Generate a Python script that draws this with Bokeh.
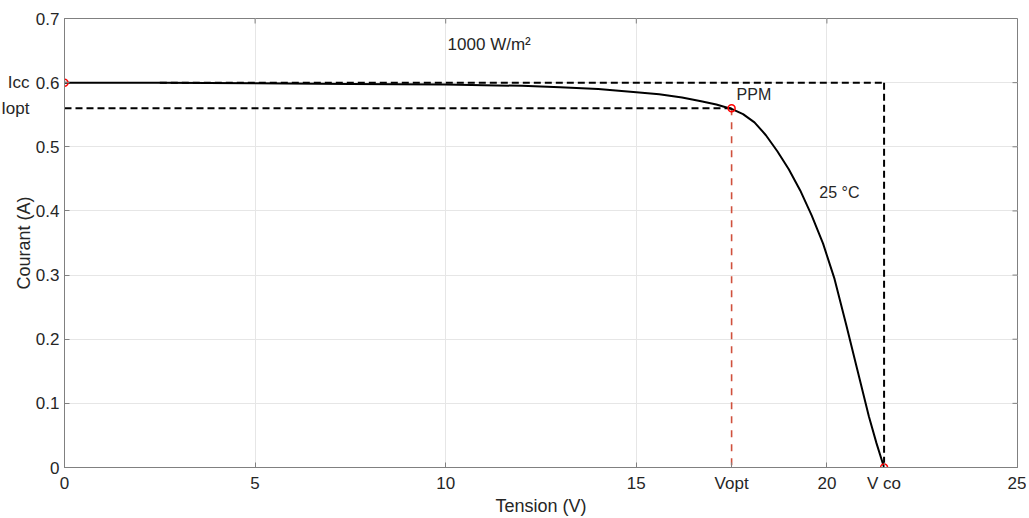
from bokeh.plotting import figure
from bokeh.models import Label, LinearAxis, Range1d, FixedTicker
from bokeh.embed import file_html
from bokeh.resources import INLINE

# ---- data ----
tension = [0, 2.5, 5, 7.5, 10, 12, 13, 14, 15, 15.6, 16.2, 16.7, 17.1, 17.5,
           17.8, 18.1, 18.4, 18.7, 19.0, 19.3, 19.6, 19.9, 20.2, 20.5, 20.8,
           21.1, 21.3, 21.5]
courant = [0.600, 0.600, 0.599, 0.598, 0.597, 0.595, 0.593, 0.590, 0.585, 0.582,
           0.577, 0.571, 0.566, 0.559, 0.551, 0.538, 0.518, 0.493, 0.465, 0.432,
           0.393, 0.349, 0.294, 0.224, 0.152, 0.080, 0.038, 0.0]
icc = 0.6
iopt = 0.56
vopt = 17.5
vco = 21.5
x_ticks = [0, 5, 10, 15, 20, 25]
y_ticks = [0, 0.1, 0.2, 0.3, 0.4, 0.5, 0.6, 0.7]
x_marks = {17.5: "Vopt", 21.5: "V co"}
y_marks = {0.56: "Iopt", 0.6: "Icc"}
x_max = 25
y_max = 0.7

FONT = "Liberation Sans"
TXT = "#262626"
AX = "#808080"

p = figure(width=1026, height=518, output_backend="svg", toolbar_location=None,
           x_range=Range1d(0, x_max), y_range=Range1d(0, y_max),
           min_border_left=64, min_border_right=9, min_border_top=18, min_border_bottom=50,
           x_axis_label="Tension (V)")
p.outline_line_color = AX
p.background_fill_color = "white"
p.border_fill_color = "white"

for ax in (p.xaxis[0], p.yaxis[0]):
    ax.axis_line_color = AX
    ax.major_tick_line_color = AX
    ax.major_tick_in = 5
    ax.major_tick_out = 0
    ax.minor_tick_line_color = None
    ax.major_label_text_font = FONT
    ax.major_label_text_font_size = "17px"
    ax.major_label_text_color = TXT
    ax.axis_label_text_font = FONT
    ax.axis_label_text_font_size = "18px"
    ax.axis_label_text_font_style = "normal"
    ax.axis_label_text_color = TXT

p.xaxis.ticker = FixedTicker(ticks=sorted(x_ticks + list(x_marks)))
p.xaxis.major_label_overrides = x_marks
p.xaxis.major_label_standoff = 6
p.xaxis.axis_label_standoff = 0
p.yaxis.ticker = FixedTicker(ticks=y_ticks)
p.yaxis.major_label_standoff = 5

# outer left axis: Icc / Iopt names and the axis title
names = LinearAxis(ticker=FixedTicker(ticks=sorted(y_marks)), major_label_overrides=y_marks,
                   axis_line_color=None, major_tick_line_color=None, minor_tick_line_color=None,
                   major_tick_in=0, major_tick_out=0, major_label_standoff=3,
                   major_label_text_font=FONT, major_label_text_font_size="17px",
                   major_label_text_color=TXT,
                   axis_label="Courant (A)", axis_label_standoff=-36,
                   axis_label_text_font=FONT, axis_label_text_font_size="18px",
                   axis_label_text_font_style="normal", axis_label_text_color=TXT)
p.add_layout(names, "left")

p.xgrid.ticker = FixedTicker(ticks=x_ticks)
p.ygrid.ticker = FixedTicker(ticks=y_ticks)
p.grid.grid_line_color = "#e6e6e6"
p.grid.grid_line_width = 1

# box ticks on the top and right edges (inward, ~5 px)
tick_dy = y_max * 5 / 448
tick_dx = x_max * 5 / 953
p.segment(x0=x_ticks, y0=[y_max] * len(x_ticks), x1=x_ticks,
          y1=[y_max - tick_dy] * len(x_ticks), line_color=AX, line_width=1)
p.segment(x0=[x_max] * len(y_ticks), y0=y_ticks, x1=[x_max - tick_dx] * len(y_ticks),
          y1=y_ticks, line_color=AX, line_width=1)

# reference dashed lines
p.line([2.5, vco], [icc, icc], line_color="black", line_width=2, line_dash="7 4")
p.line([vco, vco], [icc, 0], line_color="black", line_width=2, line_dash="7 4")
p.line([0, vopt], [iopt, iopt], line_color="black", line_width=2, line_dash="7 4")
p.line([vopt, vopt], [iopt, 0], line_color="#d0503c", line_width=1.6, line_dash="7 7")

# I-V curve
p.line(tension, courant, line_color="black", line_width=2)

# key points
p.scatter([0, vopt, vco], [icc, iopt, 0], marker="circle", size=7,
          fill_color=None, line_color="#ff0000", line_width=1.5)

def lab(x, y, text, size="16px"):
    p.add_layout(Label(x=x, y=y, text=text, text_align="left", text_baseline="middle",
                       text_font=FONT, text_font_size=size, text_color=TXT))

lab(10.05, 0.660, "1000 W/m²", size="17px")
lab(17.63, 0.582, "PPM")
lab(19.8, 0.429, "25 °C")

open("out.html", "w").write(file_html(p, INLINE))
